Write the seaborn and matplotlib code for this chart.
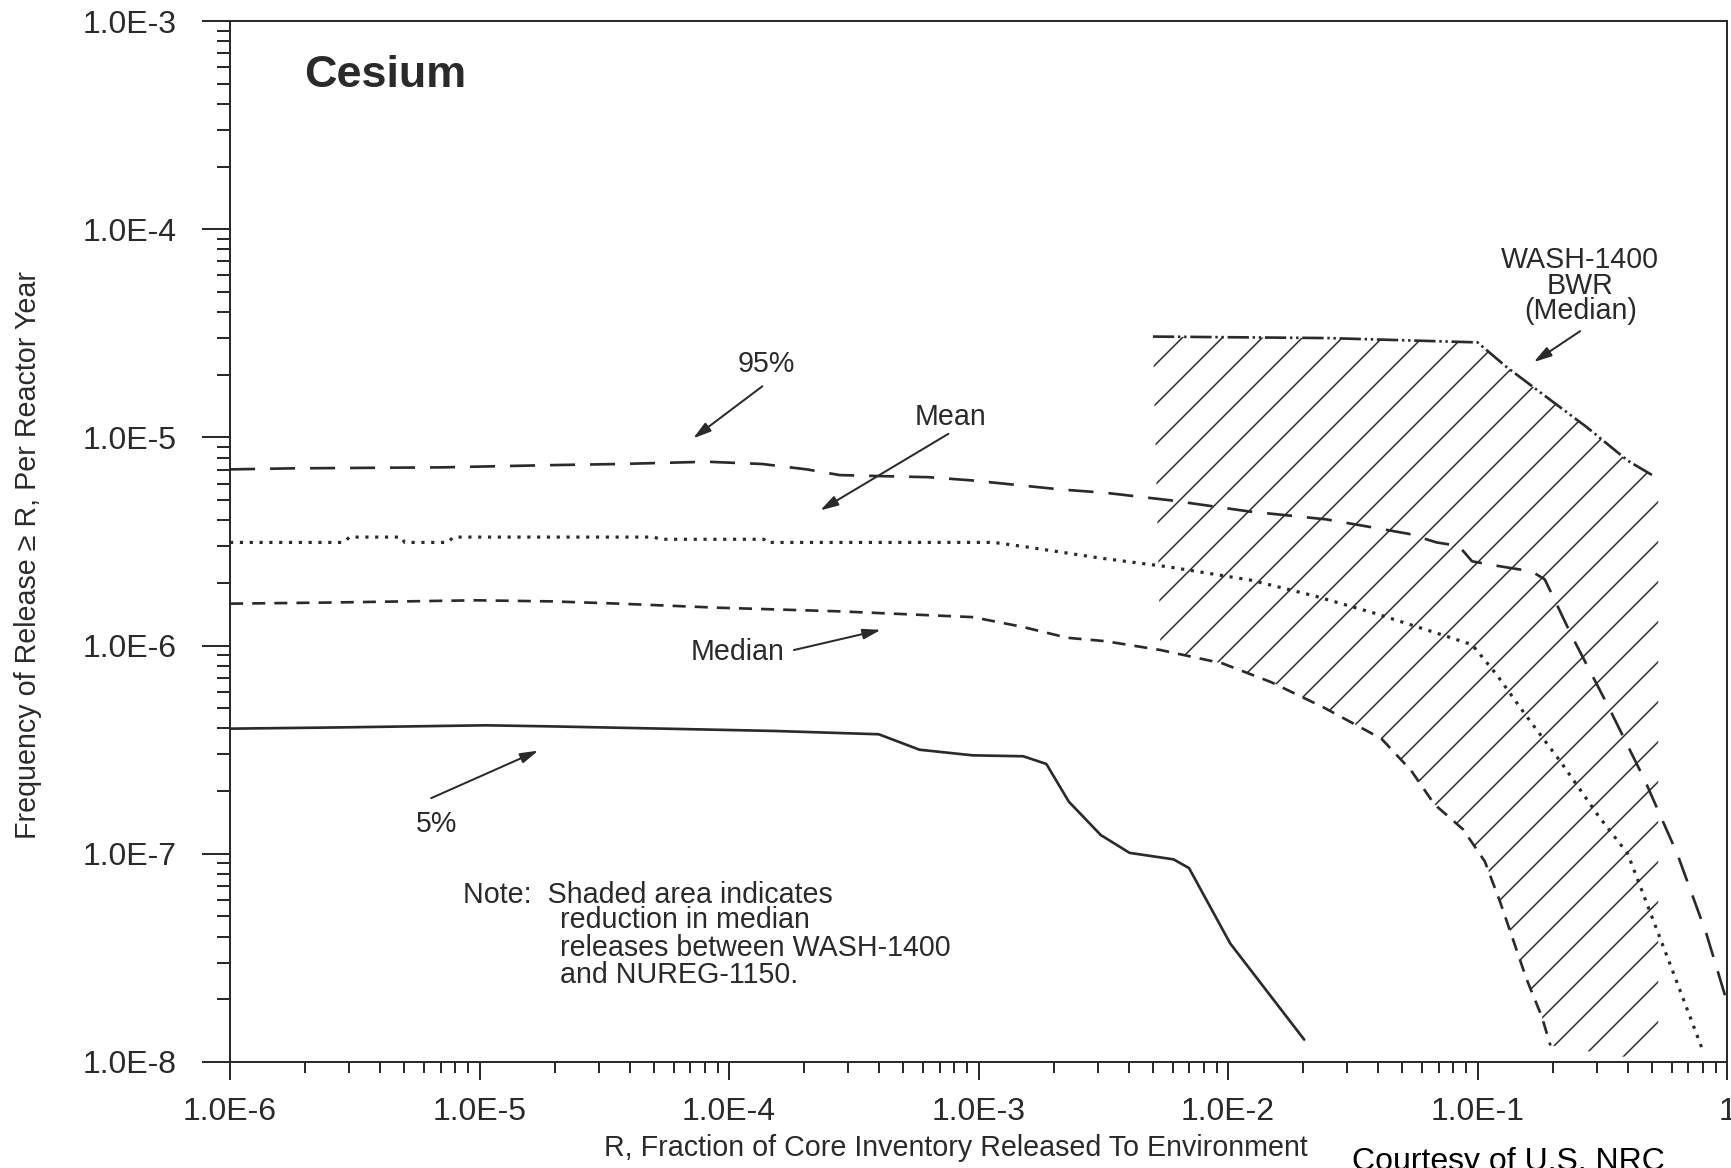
import numpy as np
import seaborn as sns
import matplotlib
matplotlib.use('Agg')
import matplotlib.pyplot as plt
from matplotlib.ticker import FuncFormatter, NullFormatter

sns.set_style('ticks')
plt.rcParams['font.family'] = ['Liberation Sans', 'DejaVu Sans']
plt.rcParams['hatch.linewidth'] = 0.45

ink = '#2a2a2a'

# values: R (fraction released) vs frequency per reactor year
p95_r = [1.0e-6, 1.77e-6, 7.08e-6, 1.96e-5, 3.62e-5, 8.18e-5, 1.36e-4, 2.05e-4, 2.78e-4, 4.19e-4,
         6.3e-4, 9.47e-4, 1.42e-3, 2.14e-3, 3.22e-3, 5.93e-3, 1.21e-2, 2.47e-2, 3.72e-2, 5.31e-2,
         6.85e-2, 8.41e-2, 9.51e-2, 0.114, 0.165, 0.186, 0.238, 0.336, 0.467, 0.634, 0.826, 1.0]
p95_f = [7.02e-6, 7.1e-6, 7.18e-6, 7.36e-6, 7.45e-6, 7.64e-6, 7.45e-6, 7.02e-6, 6.59e-6, 6.51e-6,
         6.44e-6, 6.21e-6, 5.91e-6, 5.62e-6, 5.42e-6, 4.98e-6, 4.41e-6, 4.04e-6, 3.71e-6, 3.44e-6,
         3.13e-6, 3.01e-6, 2.54e-6, 2.44e-6, 2.27e-6, 2.08e-6, 1.12e-6, 5.04e-7, 2.27e-7, 9.88e-8,
         4.14e-8, 1.94e-8]

mean_r = [1.0e-6, 2.86e-6, 3.01e-6, 4.85e-6, 5.01e-6, 7.45e-6, 7.85e-6, 5.02e-5, 5.28e-5, 1.38e-4,
          1.41e-4, 1.15e-3, 1.58e-3, 3.09e-3, 5.75e-3, 1.24e-2, 2.23e-2, 3.87e-2, 7.14e-2, 9.51e-2,
          0.119, 0.155, 0.217, 0.304, 0.400, 0.485, 0.601, 0.792]
mean_f = [3.13e-6, 3.13e-6, 3.32e-6, 3.32e-6, 3.13e-6, 3.13e-6, 3.32e-6, 3.32e-6, 3.24e-6, 3.24e-6,
          3.13e-6, 3.13e-6, 2.97e-6, 2.63e-6, 2.39e-6, 2.06e-6, 1.73e-6, 1.43e-6, 1.13e-6, 1.01e-6,
          7.28e-7, 4.68e-7, 2.73e-7, 1.53e-7, 1.0e-7, 5.48e-8, 2.8e-8, 1.17e-8]

med_r = [1.0e-6, 2.55e-6, 9.6e-6, 1.96e-5, 3.62e-5, 9.08e-5, 2.78e-4, 9.47e-4, 1.5e-3, 2.27e-3,
         3.22e-3, 5.36e-3, 9.48e-3, 1.49e-2, 2.42e-2, 4.12e-2, 5.42e-2, 6.71e-2, 8.75e-2, 0.107,
         0.123, 0.139, 0.157, 0.181, 0.196]
med_f = [1.59e-6, 1.61e-6, 1.65e-6, 1.63e-6, 1.59e-6, 1.52e-6, 1.46e-6, 1.37e-6, 1.23e-6, 1.09e-6,
         1.05e-6, 9.52e-7, 8.22e-7, 6.67e-7, 5.04e-7, 3.57e-7, 2.51e-7, 1.73e-7, 1.31e-7, 9.18e-8,
         5.9e-8, 3.85e-8, 2.51e-8, 1.65e-8, 1.2e-8]

p5_r = [1.0e-6, 2.55e-6, 1.06e-5, 1.96e-5, 5.45e-5, 1.51e-4, 3.98e-4, 5.8e-4, 9.47e-4, 1.51e-3,
        1.87e-3, 2.3e-3, 3.09e-3, 4.03e-3, 6.05e-3, 6.98e-3, 1.02e-2, 2.02e-2]
p5_f = [3.99e-7, 4.04e-7, 4.14e-7, 4.09e-7, 3.99e-7, 3.89e-7, 3.75e-7, 3.16e-7, 2.97e-7, 2.94e-7,
        2.7e-7, 1.78e-7, 1.23e-7, 1.01e-7, 9.4e-8, 8.53e-8, 3.71e-8, 1.28e-8]

# WASH-1400 BWR median
wash_r = [5.0e-3, 2.5e-2, 0.100, 0.130, 0.188, 0.274, 0.400, 0.500]
wash_f = [3.05e-5, 3.0e-5, 2.86e-5, 2.19e-5, 1.57e-5, 1.12e-5, 7.73e-6, 6.6e-6]

hatch_right = 0.53
f_floor = 1e-8

# dpi 240 so that the hatch spacing matches the scan
fig = plt.figure(figsize=(1731 / 240, 1168 / 240), dpi=240)
ax = fig.add_axes([0.1329, 0.0908, 0.8648, 0.8912])
ax.set_xscale('log')
ax.set_yscale('log')

# shaded area between WASH-1400 and NUREG-1150 medians
med_in = [(r, f) for r, f in zip(med_r, med_f) if r >= wash_r[0]]
hx = wash_r + [hatch_right, hatch_right] + [p[0] for p in med_in][::-1]
hy = wash_f + [wash_f[-1], f_floor] + [p[1] for p in med_in][::-1]
ax.fill(hx, hy, facecolor='none', edgecolor=ink, hatch='//', linewidth=0)

lw = 0.8
sns.lineplot(x=p95_r, y=p95_f, ax=ax, color=ink, lw=lw, linestyle=(0, (9.4, 5.6)),
             estimator=None, sort=False)
sns.lineplot(x=mean_r, y=mean_f, ax=ax, color=ink, lw=0.95, linestyle=(0, (1, 2.1)),
             estimator=None, sort=False)
sns.lineplot(x=med_r, y=med_f, ax=ax, color=ink, lw=lw, linestyle=(0, (4.9, 3.4)),
             estimator=None, sort=False)
sns.lineplot(x=p5_r, y=p5_f, ax=ax, color=ink, lw=lw, estimator=None, sort=False)
sns.lineplot(x=wash_r, y=wash_f, ax=ax, color=ink, lw=lw,
             linestyle=(0, (8, 1.4, 0.9, 1.4, 0.9, 1.4)), estimator=None, sort=False)

ax.set_xlim(1e-6, 1.0)
ax.set_ylim(1e-8, 1e-3)


def fmt(v, pos):
    e = int(round(np.log10(v)))
    return '1' if e == 0 else '1.0E%d' % e


ax.xaxis.set_major_formatter(FuncFormatter(fmt))
ax.yaxis.set_major_formatter(FuncFormatter(fmt))
ax.xaxis.set_minor_formatter(NullFormatter())
ax.yaxis.set_minor_formatter(NullFormatter())

ax.tick_params(axis='y', which='major', direction='out', length=8.5, width=0.6, pad=7.5,
               labelsize=9.6, colors=ink)
ax.tick_params(axis='y', which='minor', direction='out', length=4, width=0.6, colors=ink)
ax.tick_params(axis='x', which='major', direction='out', length=5.5, width=0.6, pad=5,
               labelsize=9.6, colors=ink)
ax.tick_params(axis='x', which='minor', direction='out', length=3.2, width=0.6, colors=ink)
for s in ax.spines.values():
    s.set_visible(True)
    s.set_color(ink)
    s.set_linewidth(0.6)

ax.set_xlabel('R, Fraction of Core Inventory Released To Environment', fontsize=8.6, color=ink)
ax.set_ylabel('Frequency of Release \u2265 R, Per Reactor Year', fontsize=8.6, color=ink)
ax.xaxis.set_label_coords(0.485, -0.0826)
ax.xaxis.label.set_va('center')
ax.yaxis.set_label_coords(-0.135, 0.487)
ax.yaxis.label.set_va('center')

ax.text(0.0495, 0.948, 'Cesium', transform=ax.transAxes, fontsize=13.5, fontweight='bold',
        ha='left', va='center', color=ink)

# curve labels and arrows
fs = 8.6
ax.text(1.41e-4, 2.24e-5, '95%', ha='center', va='center', fontsize=fs, color=ink)
ax.text(7.73e-4, 1.25e-5, 'Mean', ha='center', va='center', fontsize=fs, color=ink)
ax.text(1.08e-4, 9.29e-7, 'Median', ha='center', va='center', fontsize=fs, color=ink)
ax.text(6.73e-6, 1.39e-7, '5%', ha='center', va='center', fontsize=fs, color=ink)
ax.text(0.258, 5.36e-5, 'WASH-1400\nBWR\n(Median)', ha='center', va='center', fontsize=fs,
        linespacing=0.87, color=ink)

arrows = [((1.36e-4, 1.76e-5), (7.18e-5, 9.89e-6)),
          ((7.57e-4, 1.04e-5), (2.32e-4, 4.46e-6)),
          ((1.82e-4, 9.52e-7), (4.06e-4, 1.19e-6)),
          ((6.4e-6, 1.85e-7), (1.72e-5, 3.13e-7)),
          ((0.258, 3.24e-5), (0.168, 2.3e-5))]
for start, end in arrows:
    ax.annotate('', xy=end, xytext=start,
                arrowprops=dict(arrowstyle='-|>,head_length=0.45,head_width=0.13',
                                color=ink, lw=0.6, shrinkA=0, shrinkB=0))

ax.text(8.59e-6, 5.83e-8, 'Note:  Shaded area indicates', ha='left', va='baseline',
        fontsize=fs, color=ink)
# baseline of the last line of the block
ax.text(2.11e-5, 2.39e-8, 'reduction in median\nreleases between WASH-1400\nand NUREG-1150.',
        ha='left', va='baseline', fontsize=fs, linespacing=0.98, color=ink)

fig.text(0.781, -0.0017, 'Courtesy of U.S. NRC', ha='left', va='baseline', fontsize=9.6,
         color='black')

fig.savefig('out.png', dpi=240)
